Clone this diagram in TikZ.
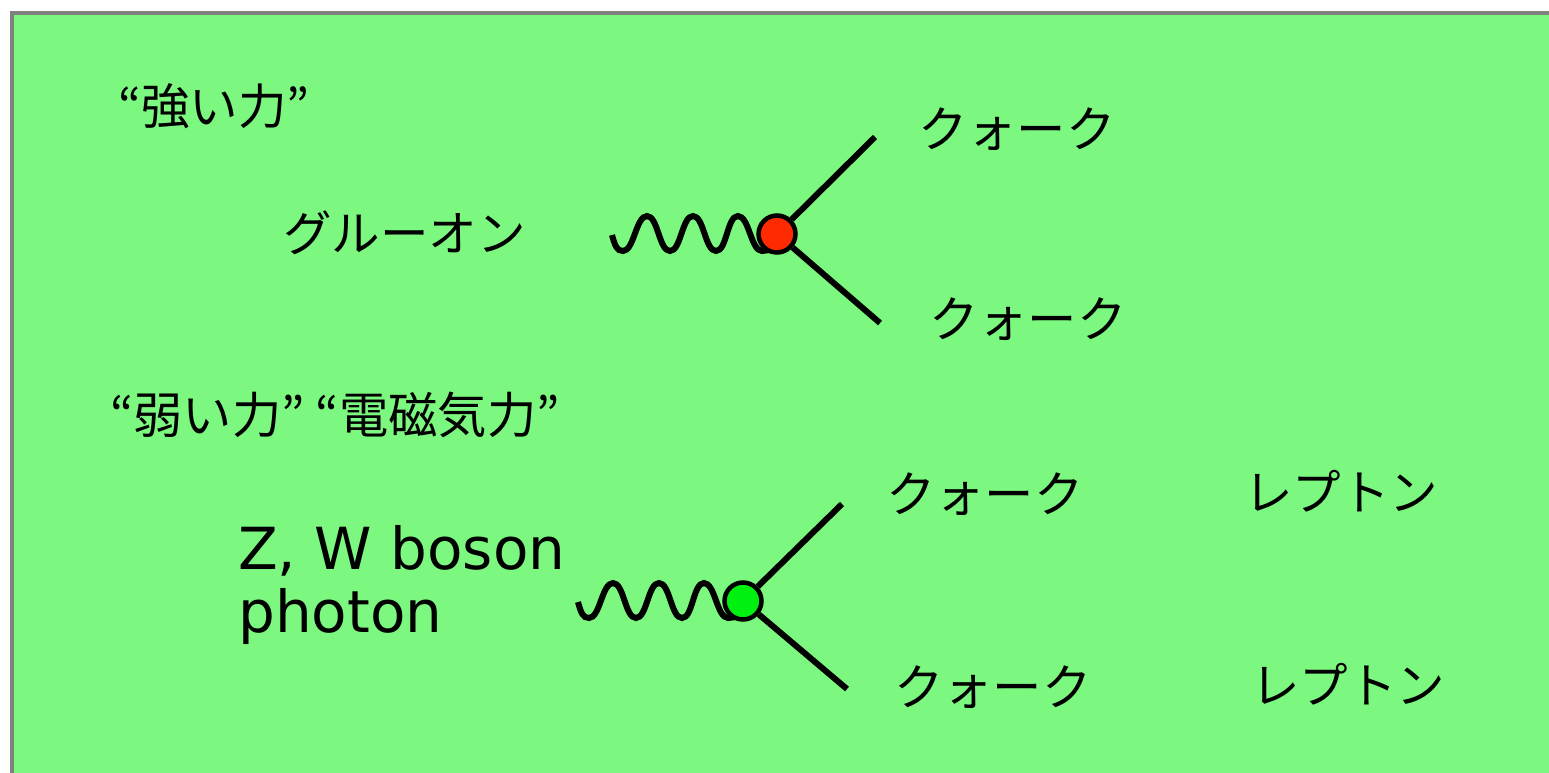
\documentclass[tikz,border=0pt]{standalone}
\usepackage{fontspec}
\setmainfont{Liberation Sans}
\newfontfamily\cjk{Noto Sans CJK JP}
\newfontfamily\latn{DejaVu Sans}
\definecolor{bgg}{HTML}{7CF77F}
\definecolor{frame}{HTML}{808080}
\definecolor{redv}{HTML}{FF2A00}
\definecolor{grnv}{HTML}{00F010}
\tikzset{
 px/.style={x=1pt,y=-1pt},
 lbl/.style={inner sep=0pt,anchor=west,font=\fontsize{49.3}{49.3}\selectfont\cjk},
 lbs/.style={inner sep=0pt,anchor=west,font=\fontsize{48.5}{48.5}\selectfont\cjk},
 lat/.style={inner sep=0pt,anchor=west,font=\fontsize{58}{60}\selectfont\latn},
 leg/.style={line width=6pt,black},
 wav/.style={line width=6pt,black},
 vert/.style={circle,draw=black,line width=4.5pt,minimum size=37pt,inner sep=0pt}
}
\newcommand{\wavepath}{ .. controls +(3,11) and +(-6,0) .. ++(11,16)
 .. controls +(11,0) and +(-11,0) .. ++(24,-35)
 .. controls +(11,0) and +(-11,0) .. ++(23,35)
 .. controls +(11,0) and +(-11,0) .. ++(23,-35)
 .. controls +(11,0) and +(-11,0) .. ++(23,35)
 .. controls +(11,0) and +(-11,0) .. ++(22,-35)
 .. controls +(11,0) and +(-11,0) .. ++(24,35) -- ++(8,-1)}
\begin{document}
\begin{tikzpicture}[px]
\useasboundingbox (0,0) rectangle (1549,773);
\fill[white] (0,0) rectangle (1549,773);
\fill[bgg] (11.5,13) rectangle (1549,773);
\draw[frame,line width=4pt] (11.5,773) -- (11.5,13) -- (1549,13);
\node[lbs] (t1) at (118,106) {“強い力”};
\node[lbl] (t2) at (110,415) {“弱い力” “電磁気力”};
\node[lbs] (g) at (283,233) {グルーオン};
\node[lbl] (q1) at (918,129) {クォーク};
\node[lbl] (q2) at (929,319) {クォーク};
\node[lbl] (q3) at (886,494) {クォーク};
\node[lbl] (q4) at (894,687) {クォーク};
\node[lbs] (l1) at (1244,491) {レプトン};
\node[lbs] (l2) at (1251,684) {レプトン};
\node[lat] (z) at (238,551) {Z, W boson};
\node[lat] (p) at (238,616) {photon};
\coordinate (a1) at (875,137);
\coordinate (a2) at (880,323);
\coordinate (a3) at (842,504);
\coordinate (a4) at (847,689);
\coordinate (w1) at (612,235);
\coordinate (w2) at (578,602);
\draw[wav] (w1) \wavepath;
\draw[wav] (w2) \wavepath;
\node[vert,fill=redv] (v1) at (777,234) {};
\node[vert,fill=grnv] (v2) at (743,601) {};
\draw[leg] (v1) -- (a1);
\draw[leg] (v1) -- (a2);
\draw[leg] (v2) -- (a3);
\draw[leg] (v2) -- (a4);
\end{tikzpicture}
\end{document}
